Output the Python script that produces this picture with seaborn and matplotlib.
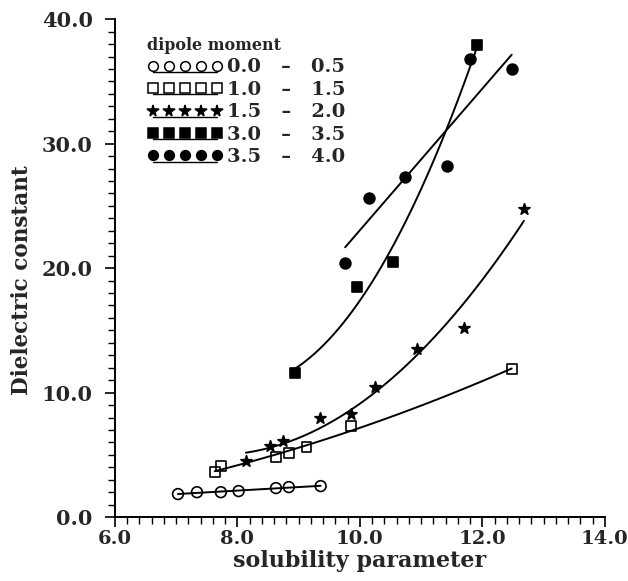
import numpy as np
import matplotlib
matplotlib.use("Agg")
import matplotlib.pyplot as plt
from matplotlib.lines import Line2D
from matplotlib.legend_handler import HandlerLine2D, HandlerTuple
from matplotlib.ticker import MultipleLocator, FormatStrFormatter
import seaborn as sns

# dipole moment 0.0 - 0.5
x_g1 = [7.03, 7.34, 7.73, 8.02, 8.63, 8.84, 9.36]
y_g1 = [1.85, 2.0, 2.0, 2.09, 2.33, 2.41, 2.49]
# 1.0 - 1.5
x_g2 = [7.63, 7.73, 8.63, 8.84, 9.13, 9.85, 12.48]
y_g2 = [3.61, 4.10, 4.82, 5.14, 5.62, 7.31, 11.89]
# 1.5 - 2.0
x_g3 = [8.14, 8.53, 8.74, 9.35, 9.85, 10.24, 10.93, 11.70, 12.68]
y_g3 = [4.50, 5.70, 6.10, 7.95, 8.27, 10.44, 13.49, 15.18, 24.74]
# 3.0 - 3.5
x_g4 = [8.94, 9.95, 10.54, 11.91]
y_g4 = [11.57, 18.47, 20.48, 37.91]
# 3.5 - 4.0
x_g5 = [9.76, 10.15, 10.73, 11.42, 11.80, 12.48]
y_g5 = [20.4, 25.6, 27.3, 28.2, 36.8, 36.0]

labels = ["0.0   \u2013   0.5", "1.0   \u2013   1.5", "1.5   \u2013   2.0",
          "3.0   \u2013   3.5", "3.5   \u2013   4.0"]

sns.set_style("ticks")
plt.rcParams['font.family'] = ['DejaVu Serif']
plt.rcParams['font.weight'] = 'bold'
plt.rcParams['axes.labelweight'] = 'bold'

fig = plt.figure(figsize=(6.28, 5.81), dpi=100)
ax = fig.add_axes([0.183, 0.110, 0.78, 0.857])

series = [
    (x_g1, y_g1, 'o', 'none', 60, 1),
    (x_g2, y_g2, 's', 'none', 50, 2),
    (x_g3, y_g3, '*', 'black', 70, 2),
    (x_g4, y_g4, 's', 'black', 50, 2),
    (x_g5, y_g5, 'o', 'black', 60, 1),
]

handles = []
hmap = {}
for xs, ys, m, fc, s, order in series:
    sns.regplot(x=np.array(xs), y=np.array(ys), ax=ax, order=order, ci=None,
                truncate=True, color='black', marker=m,
                scatter_kws={'facecolors': fc, 's': s, 'alpha': 1, 'linewidths': 1.2},
                line_kws={'lw': 1.4})
    mk = Line2D([], [], marker=m, ls='none', mfc=fc, mec='black', mew=1.1,
                ms=7 if m != '*' else 8.5)
    ul = Line2D([], [], color='black', lw=1.0)
    handles.append((mk, ul))


class Underline(HandlerLine2D):
    def create_artists(self, legend, orig_handle, xdescent, ydescent,
                       width, height, fontsize, trans):
        arts = super().create_artists(legend, orig_handle, xdescent, ydescent,
                                      width, height, fontsize, trans)
        for a in arts:
            a.set_ydata(np.asarray(a.get_ydata()) - 0.45 * height)
        return arts


for mk, ul in handles:
    hmap[ul] = Underline()
hmap[tuple] = HandlerTuple(ndivide=1, pad=0)

leg = ax.legend(handles, labels, handler_map=hmap, loc='upper left',
                bbox_to_anchor=(0.05, 0.98), frameon=False, numpoints=5,
                handlelength=3.9, handletextpad=0.2, labelspacing=0.23,
                prop={'size': 14, 'weight': 'bold'},
                title='dipole moment', title_fontproperties={'size': 11.5, 'weight': 'bold'},
                alignment='left', borderaxespad=0)

ax.set_xlim(6, 14)
ax.set_ylim(0, 40)
ax.xaxis.set_major_locator(MultipleLocator(2))
ax.xaxis.set_minor_locator(MultipleLocator(0.2))
ax.yaxis.set_major_locator(MultipleLocator(10))
ax.yaxis.set_minor_locator(MultipleLocator(1))
ax.xaxis.set_major_formatter(FormatStrFormatter('%.1f'))
ax.yaxis.set_major_formatter(FormatStrFormatter('%.1f'))
ax.tick_params(which='major', length=7, width=1.2, labelsize=14, direction='out',
               color='black', pad=2)
ax.tick_params(axis='y', which='major', labelsize=15, pad=9)
ax.tick_params(which='minor', length=5, width=1.0, direction='out', color='black')
for sp in ['left', 'bottom']:
    ax.spines[sp].set_linewidth(1.4)
    ax.spines[sp].set_color('black')
sns.despine(ax=ax)

ax.set_xlabel('solubility parameter', fontsize=16, fontweight='bold', labelpad=2)
ax.set_ylabel('Dielectric constant', fontsize=15.5, fontweight='bold')
ax.yaxis.set_label_coords(-0.168, 0.476)

fig.savefig('out.png', dpi=100)
plt.close()
